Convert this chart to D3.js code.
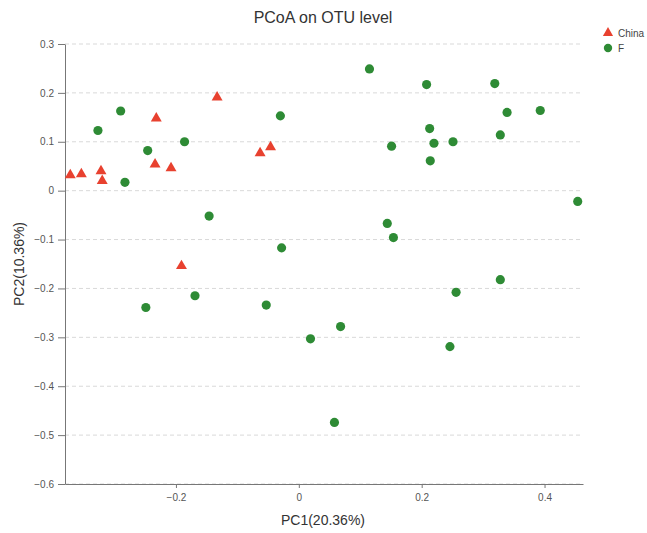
<!DOCTYPE html>
<html>
<head>
<meta charset="utf-8">
<script src="https://cdn.jsdelivr.net/npm/d3@7"></script>
<style>
  body { margin: 0; background: #fff; }
  text { font-family: "Liberation Sans", Arial, sans-serif; }
</style>
</head>
<body>
<div id="chart"></div>
<script>
// PCoA coordinates
const chinaPC1 = [-0.372, -0.354, -0.322, -0.320, -0.232, -0.234, -0.208, -0.133, -0.063, -0.046, -0.191]
const chinaPC2 = [0.032, 0.034, 0.040, 0.020, 0.148, 0.054, 0.046, 0.191, 0.077, 0.089, -0.154]

const fPC1 = [-0.327, -0.290, -0.246, -0.186, -0.283, -0.030, -0.146, -0.028, -0.169, -0.249, -0.053,
  0.068, 0.019, 0.115, 0.208, 0.319, 0.339, 0.393, 0.213, 0.151, 0.220, 0.251, 0.328, 0.214,
  0.454, 0.144, 0.154, 0.328, 0.256, 0.246, 0.058]
const fPC2 = [0.123, 0.163, 0.082, 0.100, 0.017, 0.153, -0.052, -0.117, -0.215, -0.239, -0.234,
  -0.278, -0.303, 0.249, 0.217, 0.219, 0.160, 0.164, 0.127, 0.091, 0.097, 0.100, 0.114, 0.061,
  -0.022, -0.067, -0.096, -0.182, -0.208, -0.319, -0.474]

const groups = ["China", "F"]
const xTicks = [-0.2, 0, 0.2, 0.4]
const yTicks = [0.3, 0.2, 0.1, 0, -0.1, -0.2, -0.3, -0.4, -0.5, -0.6]

const width = 647
const height = 533
const margin = { top: 44, right: 64, bottom: 49, left: 65 }

const svg = d3.select("#chart").append("svg")
  .attr("width", width)
  .attr("height", height)

const x = d3.scaleLinear()
  .domain([-0.3806, 0.4626])
  .range([margin.left, width - margin.right])

const y = d3.scaleLinear()
  .domain([-0.6, 0.3])
  .range([height - margin.bottom, margin.top])

const color = d3.scaleOrdinal().domain(groups).range(["#e8412f", "#2e8b35"])
const shape = d3.scaleOrdinal().domain(groups).range([d3.symbolTriangle, d3.symbolCircle])

// dashed grid lines
svg.append("g")
  .selectAll("line")
  .data(yTicks)
  .join("line")
    .attr("x1", margin.left)
    .attr("x2", width - margin.right)
    .attr("y1", d => y(d))
    .attr("y2", d => y(d))
    .attr("stroke", "#d9d9d9")
    .attr("stroke-dasharray", "4,3")

// axes
const xAxis = svg.append("g")
  .attr("transform", `translate(0,${height - margin.bottom})`)
  .call(d3.axisBottom(x).tickValues(xTicks).tickSize(4).tickPadding(6).tickSizeOuter(0)
    .tickFormat(d => d === 0 ? "0" : d3.format(".1f")(d)))

const yAxis = svg.append("g")
  .attr("transform", `translate(${margin.left},0)`)
  .call(d3.axisLeft(y).tickValues(yTicks).tickSize(7).tickPadding(4).tickSizeOuter(0)
    .tickFormat(d => d === 0 ? "0" : d3.format(".1f")(d)))

svg.selectAll(".domain, .tick line").attr("stroke", "#777")
svg.selectAll(".tick text").attr("fill", "#555").attr("font-size", 10)
  .attr("font-family", "Liberation Sans, Arial, sans-serif")

// points
const points = [
  ...chinaPC1.map((v, i) => ({ g: "China", pc1: v, pc2: chinaPC2[i] })),
  ...fPC1.map((v, i) => ({ g: "F", pc1: v, pc2: fPC2[i] }))
]

svg.append("g")
  .selectAll("path")
  .data(points)
  .join("path")
    .attr("transform", d => `translate(${x(d.pc1)},${y(d.pc2)})`)
    .attr("d", d => d3.symbol().type(shape(d.g)).size(d.g === "F" ? 66 : 52)())
    .attr("fill", d => color(d.g))

// title and axis labels
svg.append("text")
  .attr("x", 323)
  .attr("y", 23)
  .attr("text-anchor", "middle")
  .attr("font-size", 16)
  .attr("fill", "#333")
  .text("PCoA on OTU level")

svg.append("text")
  .attr("x", 323)
  .attr("y", 525)
  .attr("text-anchor", "middle")
  .attr("font-size", 14)
  .attr("fill", "#333")
  .text("PC1(20.36%)")

svg.append("text")
  .attr("transform", `translate(24,${(margin.top + height - margin.bottom) / 2}) rotate(-90)`)
  .attr("text-anchor", "middle")
  .attr("font-size", 14)
  .attr("fill", "#333")
  .text("PC2(10.36%)")

// legend
const legend = svg.append("g")
  .selectAll("g")
  .data(groups)
  .join("g")
    .attr("transform", (d, i) => `translate(608,${33 + i * 15})`)

legend.append("path")
  .attr("d", d => d3.symbol().type(shape(d)).size(d === "F" ? 55 : 45)())
  .attr("fill", d => color(d))

legend.append("text")
  .attr("x", 10)
  .attr("y", 3.5)
  .attr("font-size", 10)
  .attr("fill", "#444")
  .text(d => d)
</script>
</body>
</html>
